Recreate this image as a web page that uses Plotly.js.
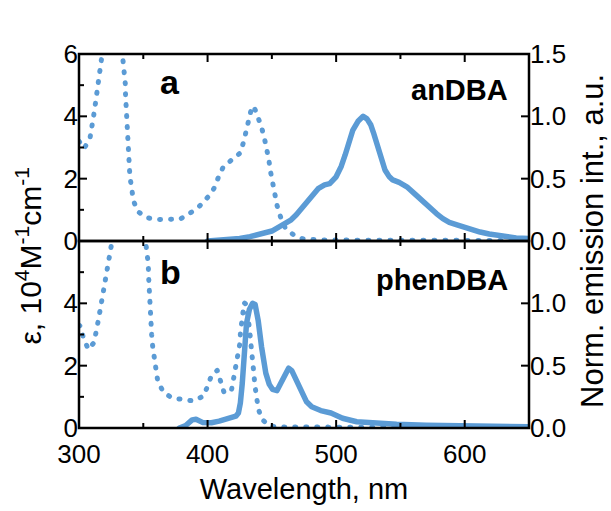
<!DOCTYPE html>
<html>
<head>
<meta charset="utf-8">
<script src="https://cdn.plot.ly/plotly-3.0.1.min.js"></script>
<style>
  html, body { margin: 0; padding: 0; background: #fff; }
  #chart { width: 611px; height: 511px; }
  .js-line { stroke-linecap: round; stroke-linejoin: round; }
</style>
</head>
<body>
<div id="chart"></div>
<script>
// ---- Data ----
// anDBA absorption (epsilon, 10^4 M^-1 cm^-1)
const absA_nm  = [300, 301.3, 304, 308.5, 310.3, 311.4, 312.7, 313.7, 314.5, 315.8, 316.6, 318, 322, 326, 330, 333, 334.4, 335.5, 336, 336.2, 336.6, 337, 337.3, 337.8, 338.3, 338.9, 339.6, 341, 342.2, 345.6, 352.6, 360.4, 368.9, 378.5, 387.6, 394, 400.5, 404.9, 408.3, 412.1, 418.6, 425.6, 428.2, 430.3, 432.1, 434.4, 436, 438.5, 441.6, 444, 446.1, 447.6, 448.9, 450.5, 452, 454.1, 456.7, 460.3, 467.3, 474.8, 490, 520, 560, 600, 650];
const absA_eps = [3.2, 3.11, 2.97, 3.29, 3.66, 4.02, 4.39, 4.77, 5.14, 5.51, 5.89, 6.4, 7.2, 7.5, 7.1, 6.3, 5.82, 5.43, 5.05, 4.68, 4.30, 3.92, 3.56, 3.18, 2.81, 2.43, 2.06, 1.69, 1.31, 0.95, 0.75, 0.69, 0.69, 0.70, 0.93, 1.13, 1.42, 1.68, 2.03, 2.37, 2.6, 2.83, 3.21, 3.56, 3.93, 4.30, 4.32, 4.06, 3.70, 3.34, 2.97, 2.62, 2.24, 1.87, 1.50, 1.13, 0.78, 0.43, 0.18, 0.06, 0.03, 0.02, 0.02, 0.02, 0.02];
// anDBA normalised emission
const emA_nm  = [400, 410, 417, 425, 433, 443, 450, 456, 461, 465, 469, 473, 477, 481, 486, 491, 495, 500, 504, 507, 510, 513, 517, 521, 524, 527, 529, 532, 535, 538, 541, 544, 549, 555, 562, 568, 573, 578, 583, 588, 594, 604, 612, 619, 630, 640, 650];
const emA_int = [0.0, 0.005, 0.013, 0.02, 0.035, 0.056, 0.08, 0.115, 0.14, 0.17, 0.21, 0.26, 0.31, 0.37, 0.42, 0.45, 0.46, 0.515, 0.6, 0.69, 0.79, 0.89, 0.96, 1.0, 0.98, 0.93, 0.87, 0.77, 0.67, 0.57, 0.52, 0.49, 0.47, 0.435, 0.37, 0.31, 0.275, 0.22, 0.18, 0.15, 0.13, 0.094, 0.072, 0.056, 0.035, 0.025, 0.02];
// phenDBA absorption
const absB_nm  = [300, 301.3, 303.4, 307.3, 311.7, 313.7, 315, 316.6, 318.1, 319.4, 321, 322.5, 324.1, 326, 332, 338, 345, 350, 353.1, 353.9, 354.1, 354.4, 354.8, 355.2, 355.7, 356.5, 357.3, 358.3, 359.6, 361.2, 365.5, 372, 379.8, 388.8, 397.1, 400, 403.1, 407.5, 410.3, 412.9, 418.6, 420.4, 422.5, 423.8, 425.1, 425.6, 426.4, 427, 428.5, 430.5, 432, 433.3, 434.2, 435.4, 436, 436.8, 438.1, 439.4, 442, 448.4, 460, 500, 600, 650];
const absB_eps = [3.3, 3.26, 2.89, 2.52, 2.74, 3.10, 3.45, 3.82, 4.19, 4.57, 4.94, 5.30, 5.66, 6.2, 7.5, 8.0, 7.6, 6.6, 5.63, 5.26, 4.89, 4.51, 4.14, 3.77, 3.40, 3.00, 2.62, 2.26, 1.87, 1.51, 1.16, 0.97, 0.92, 0.87, 1.03, 1.32, 1.69, 1.85, 1.48, 1.13, 1.21, 1.61, 1.96, 2.33, 2.71, 3.08, 3.42, 3.79, 4.02, 3.95, 3.5, 2.9, 2.49, 2.12, 1.75, 1.37, 1.00, 0.63, 0.29, 0.06, 0.03, 0.02, 0.02, 0.02];
// phenDBA normalised emission
const emB_nm  = [378, 383, 388, 391, 396, 403, 409, 415, 422, 424, 425.5, 427, 428.5, 430.3, 432.5, 435, 437, 439.4, 442, 445.3, 448, 450.5, 454, 457.5, 460, 463, 465.5, 468, 473, 477, 481, 488, 496, 505, 516, 531, 547, 570, 600, 650];
const emB_int = [0.0, 0.02, 0.065, 0.07, 0.045, 0.042, 0.055, 0.078, 0.095, 0.12, 0.2, 0.36, 0.62, 0.84, 0.95, 1.0, 0.99, 0.86, 0.65, 0.44, 0.35, 0.31, 0.30, 0.37, 0.44, 0.48, 0.46, 0.40, 0.28, 0.21, 0.17, 0.14, 0.12, 0.078, 0.05, 0.037, 0.03, 0.022, 0.015, 0.01];

const panelLabels = ['a', 'b'];
const compoundNames = ['anDBA', 'phenDBA'];
const xTitle = 'Wavelength, nm';
const yLeftTitle = 'ε, 10<sup>4</sup>M<sup>-1</sup>cm<sup>-1</sup>';
const yRightTitle = 'Norm. emission int., a.u.';
const xTickVals = [300, 400, 500, 600];
const xMinorVals = [350, 450, 550];
const epsTickVals = [0, 2, 4, 6];
const epsMinorVals = [1, 3, 5];
const emTickVals = [0, 0.5, 1.0, 1.5];
const emTickText = ['0.0', '0.5', '1.0', '1.5'];

// ---- Styling / geometry ----
const blue = '#5b9bd5';
const FONT = 'Liberation Sans, Arial, sans-serif';
const W = 611, H = 511, M = {l: 79, r: 82, t: 54, b: 83};
const plotW = W - M.l - M.r, panelH = (H - M.t - M.b) / 2;
const MAJ = 8, MIN = 5;
const dotLine = {color: blue, width: 5, dash: '1px,10px'};
const solidLine = {color: blue, width: 5.5};
const tickFont = {family: FONT, size: 26, color: '#000'};

const traces = [
  {x: absA_nm, y: absA_eps, xaxis: 'x', yaxis: 'y',  mode: 'lines', line: dotLine, hoverinfo: 'skip'},
  {x: emA_nm,  y: emA_int,  xaxis: 'x', yaxis: 'y2', mode: 'lines', line: solidLine, hoverinfo: 'skip'},
  {x: absB_nm, y: absB_eps, xaxis: 'x', yaxis: 'y3', mode: 'lines', line: dotLine, hoverinfo: 'skip'},
  {x: emB_nm,  y: emB_int,  xaxis: 'x', yaxis: 'y4', mode: 'lines', line: solidLine, hoverinfo: 'skip'}
];

// Frame and inward ticks, placed on the axes' own scales
const black = {color: '#000', width: 2};
const shapes = [];
['y domain', 'y3 domain'].forEach(function (yref) {
  xTickVals.concat(xMinorVals).forEach(function (v) {
    const L = (xMinorVals.indexOf(v) >= 0 ? MIN : MAJ) / panelH;
    shapes.push({type: 'line', xref: 'x', yref: yref, x0: v, x1: v, y0: 0, y1: L, line: black});
    shapes.push({type: 'line', xref: 'x', yref: yref, x0: v, x1: v, y0: 1, y1: 1 - L, line: black});
  });
});
['y', 'y3'].forEach(function (yref) {
  epsTickVals.concat(epsMinorVals).forEach(function (v) {
    const L = (epsMinorVals.indexOf(v) >= 0 ? MIN : MAJ) / plotW;
    shapes.push({type: 'line', xref: 'paper', yref: yref, x0: 0, x1: L, y0: v, y1: v, line: black});
  });
});
['y2', 'y4'].forEach(function (yref) {
  emTickVals.forEach(function (v) {
    shapes.push({type: 'line', xref: 'paper', yref: yref, x0: 1, x1: 1 - MAJ / plotW, y0: v, y1: v, line: black});
  });
});
shapes.push({type: 'rect', xref: 'paper', yref: 'paper', x0: 0, x1: 1, y0: 0.5, y1: 1, line: {color: '#000', width: 2.5}});
shapes.push({type: 'rect', xref: 'paper', yref: 'paper', x0: 0, x1: 1, y0: 0, y1: 0.5, line: {color: '#000', width: 2.5}});

function ax(extra) {
  return Object.assign({
    showgrid: false, zeroline: false, showline: false, ticks: '', tickfont: tickFont
  }, extra);
}

const layout = {
  width: W, height: H, margin: M,
  paper_bgcolor: '#fff', plot_bgcolor: 'rgba(0,0,0,0)',
  showlegend: false,
  font: {family: FONT, color: '#000'},
  shapes: shapes,
  xaxis: ax({anchor: 'y3', domain: [0, 1], range: [300, 650], tickvals: xTickVals, ticklabelstandoff: 8,
    title: {text: xTitle, font: {family: FONT, size: 29, color: '#000'}, standoff: 10}}),
  xaxis2: ax({anchor: 'y', domain: [0, 1], side: 'top', range: [300, 650], tickvals: xTickVals, ticklabelstandoff: 2}),
  yaxis: ax({domain: [0.5, 1], anchor: 'x', range: [0, 6], tickvals: epsTickVals}),
  yaxis2: ax({overlaying: 'y', side: 'right', anchor: 'x', range: [0, 1.5], tickvals: emTickVals, ticktext: emTickText}),
  yaxis3: ax({domain: [0, 0.5], anchor: 'x', range: [0, 6], tickvals: epsTickVals.slice(0, 3)}),
  yaxis4: ax({overlaying: 'y3', side: 'right', anchor: 'x', range: [0, 1.5],
    tickvals: emTickVals.slice(0, 3), ticktext: emTickText.slice(0, 3)}),
  annotations: [
    {text: panelLabels[0], xref: 'x', yref: 'y', x: 371, y: 5.1, showarrow: false,
      font: {family: FONT, size: 34, color: '#000', weight: 'bold'}, xanchor: 'center', yanchor: 'middle'},
    {text: panelLabels[1], xref: 'x', yref: 'y3', x: 371, y: 5.0, showarrow: false,
      font: {family: FONT, size: 34, color: '#000', weight: 'bold'}, xanchor: 'center', yanchor: 'middle'},
    {text: compoundNames[0], xref: 'x', yref: 'y', x: 635, y: 4.85, showarrow: false,
      font: {family: FONT, size: 29, color: '#000', weight: 'bold'}, xanchor: 'right', yanchor: 'middle'},
    {text: compoundNames[1], xref: 'x', yref: 'y3', x: 635, y: 4.75, showarrow: false,
      font: {family: FONT, size: 29, color: '#000', weight: 'bold'}, xanchor: 'right', yanchor: 'middle'},
    {text: yLeftTitle, xref: 'paper', yref: 'paper', x: -0.112, y: 0.46, textangle: -90, showarrow: false,
      font: {family: FONT, size: 30, color: '#000'}, xanchor: 'center', yanchor: 'middle'},
    {text: yRightTitle, xref: 'paper', yref: 'paper', x: 1.14, y: 0.5, textangle: -90, showarrow: false,
      font: {family: FONT, size: 31, color: '#000'}, xanchor: 'center', yanchor: 'middle'}
  ]
};

Plotly.newPlot('chart', traces, layout, {displayModeBar: false});
</script>
</body>
</html>
